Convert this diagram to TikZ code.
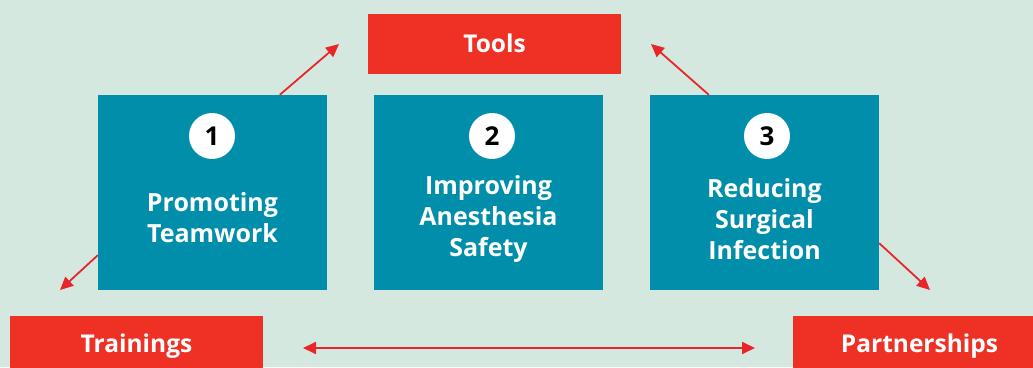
\documentclass[tikz,border=0pt]{standalone}
\usepackage{fontspec}
\setmainfont{Open Sans}
\usetikzlibrary{arrows.meta,calc}
\definecolor{bgc}{HTML}{D4E8DF}
\definecolor{tealc}{HTML}{008EAA}
\definecolor{redc}{HTML}{EE3124}
\definecolor{arrc}{HTML}{E8262A}
\tikzset{
  pillar/.style={fill=tealc, minimum width=229pt, minimum height=195pt, inner sep=0pt},
  tag/.style={fill=redc, minimum width=253pt, minimum height=60pt, inner sep=0pt, text=white, font=\fontsize{24.5}{28}\selectfont\bfseries},
  label/.style={text=white, align=center, font=\fontsize{25}{31}\selectfont\bfseries},
  numc/.style={circle, fill=white, minimum size=46pt, inner sep=0pt, font=\fontsize{26}{28}\selectfont\bfseries},
  link/.style={draw=arrc, line width=1.8pt, -{Triangle[length=13pt,width=12pt]}},
  dlink/.style={draw=arrc, line width=1.8pt, {Triangle[length=13pt,width=12pt]}-{Triangle[length=13pt,width=12pt]}}
}
\begin{document}
\begin{tikzpicture}[x=1pt,y=1pt]
\useasboundingbox (0,0) rectangle (1033,367);
\fill[bgc] (0,0) rectangle (1033,367);
\clip (0,0) rectangle (1033,367);
% boxes
\node[pillar] (b1) at (212.5,174.5) {};
\node[pillar] (b2) at (488.5,174.5) {};
\node[pillar] (b3) at (764.5,174.5) {};
\node[numc] (n1) at (212,231) {1};
\node[numc] (n2) at (492,231) {2};
\node[numc] (n3) at (767,231) {3};
\node[label] (t1) at (212.5,149) {Promoting\\Teamwork};
\node[label] (t2) at (488.5,148) {Improving\\Anesthesia\\Safety};
\node[label] (t3) at (764.5,148) {Reducing\\Surgical\\Infection};
% tags
\node[tag] (tools) at (494.5,323) {\raisebox{2pt}{Tools}};
\node[tag] (train) at (136.5,21) {\raisebox{1pt}{Trainings}};
\node[tag] (partn) at (919.5,21) {\raisebox{1pt}{Partnerships}};
% arrow ends
\coordinate (e1) at (339,323);
\coordinate (e2) at (60,77);
\coordinate (e3) at (651,323);
\coordinate (e4) at (930,77);
\coordinate (hL) at (303,19);
\coordinate (hR) at (755,19);
\draw[link] ($(b1.north west)+(182,0)$) -- (e1);
\draw[link] ($(b1.south west)+(0,35)$) -- (e2);
\draw[link] ($(b3.north west)+(59,0)$) -- (e3);
\draw[link] ($(b3.south east)+(0,47)$) -- (e4);
\draw[dlink] (hL) -- (hR);
\end{tikzpicture}
\end{document}
